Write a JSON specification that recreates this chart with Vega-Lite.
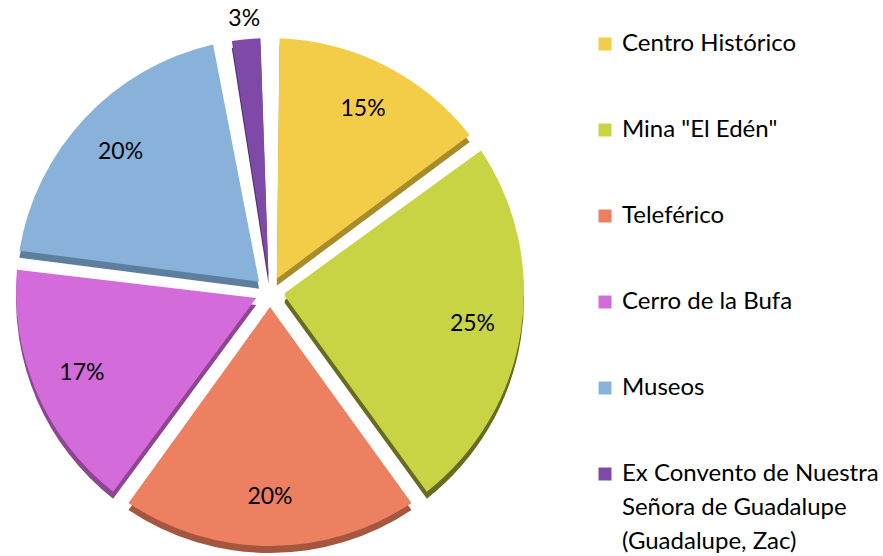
{
  "$schema": "https://vega.github.io/schema/vega-lite/v6.json",
  "width": 536,
  "height": 528,
  "autosize": {"type": "none"},
  "padding": {"top": 28, "left": 2, "right": 345, "bottom": 0},
  "background": "white",
  "data": {
    "values": [
      {"n": 1, "lugar": "Centro Histórico", "v": 0.15},
      {"n": 2, "lugar": "Mina \"El Edén\"", "v": 0.25},
      {"n": 3, "lugar": "Teleférico", "v": 0.20},
      {"n": 4, "lugar": "Cerro de la Bufa", "v": 0.17},
      {"n": 5, "lugar": "Museos", "v": 0.20},
      {"n": 6, "lugar": "Ex Convento de Nuestra Señora de Guadalupe (Guadalupe, Zac)", "v": 0.03}
    ]
  },
  "config": {"view": {"stroke": null}},
  "layer": [
    {
      "mark": {"type": "arc", "outerRadius": 254, "innerRadius": 15, "padAngle": 0.075, "yOffset": 7},
      "encoding": {
        "theta": {"field": "v", "type": "quantitative", "stack": true},
        "order": {"field": "n", "type": "quantitative"},
        "color": {
          "field": "lugar", "type": "nominal",
          "scale": {
            "domain": ["Centro Histórico", "Mina \"El Edén\"", "Teleférico", "Cerro de la Bufa", "Museos", "Ex Convento de Nuestra Señora de Guadalupe (Guadalupe, Zac)"],
            "range": ["#A88C2A", "#676C22", "#A4563F", "#8E4592", "#5E7E9E", "#53306F"]
          },
          "legend": null
        }
      }
    },
    {
      "layer": [
        {
          "mark": {"type": "arc", "outerRadius": 254, "innerRadius": 15, "padAngle": 0.075},
          "encoding": {
            "theta": {"field": "v", "type": "quantitative", "stack": true},
            "order": {"field": "n", "type": "quantitative"},
            "color": {
              "field": "lugar", "type": "nominal",
              "scale": {
                "domain": ["Centro Histórico", "Mina \"El Edén\"", "Teleférico", "Cerro de la Bufa", "Museos", "Ex Convento de Nuestra Señora de Guadalupe (Guadalupe, Zac)"],
                "range": ["#F4CD48", "#C9D444", "#EC8061", "#D46BDB", "#88B2DA", "#7F49A8"]
              },
              "legend": {
                "title": null,
                "orient": "right",
                "offset": 51,
                "symbolType": "square",
                "symbolSize": 169,
                "symbolStrokeWidth": 0,
                "labelFont": "Lato",
                "labelFontSize": 24,
                "labelColor": "#000000",
                "labelLimit": 400,
                "labelOffset": 5,
                "rowPadding": 62,
                "padding": 4,
                "labelExpr": "datum.label == 'Ex Convento de Nuestra Señora de Guadalupe (Guadalupe, Zac)' ? ['Ex Convento de Nuestra', 'Señora de Guadalupe', '(Guadalupe, Zac)'] : datum.label",
                "encode": {"labels": {"update": {"lineHeight": {"value": 34}}}}
              }
            }
          }
        },
        {
          "mark": {"type": "text", "radius": {"expr": "datum.v < 0.05 ? 274 : 205"}, "font": "Lato", "fontSize": 23, "color": "#000000"},
          "encoding": {
            "theta": {"field": "v", "type": "quantitative", "stack": true},
            "order": {"field": "n", "type": "quantitative"},
            "text": {"field": "v", "type": "quantitative", "format": ".0%"}
          }
        }
      ]
    }
  ],
  "resolve": {"scale": {"color": "independent"}}
}
